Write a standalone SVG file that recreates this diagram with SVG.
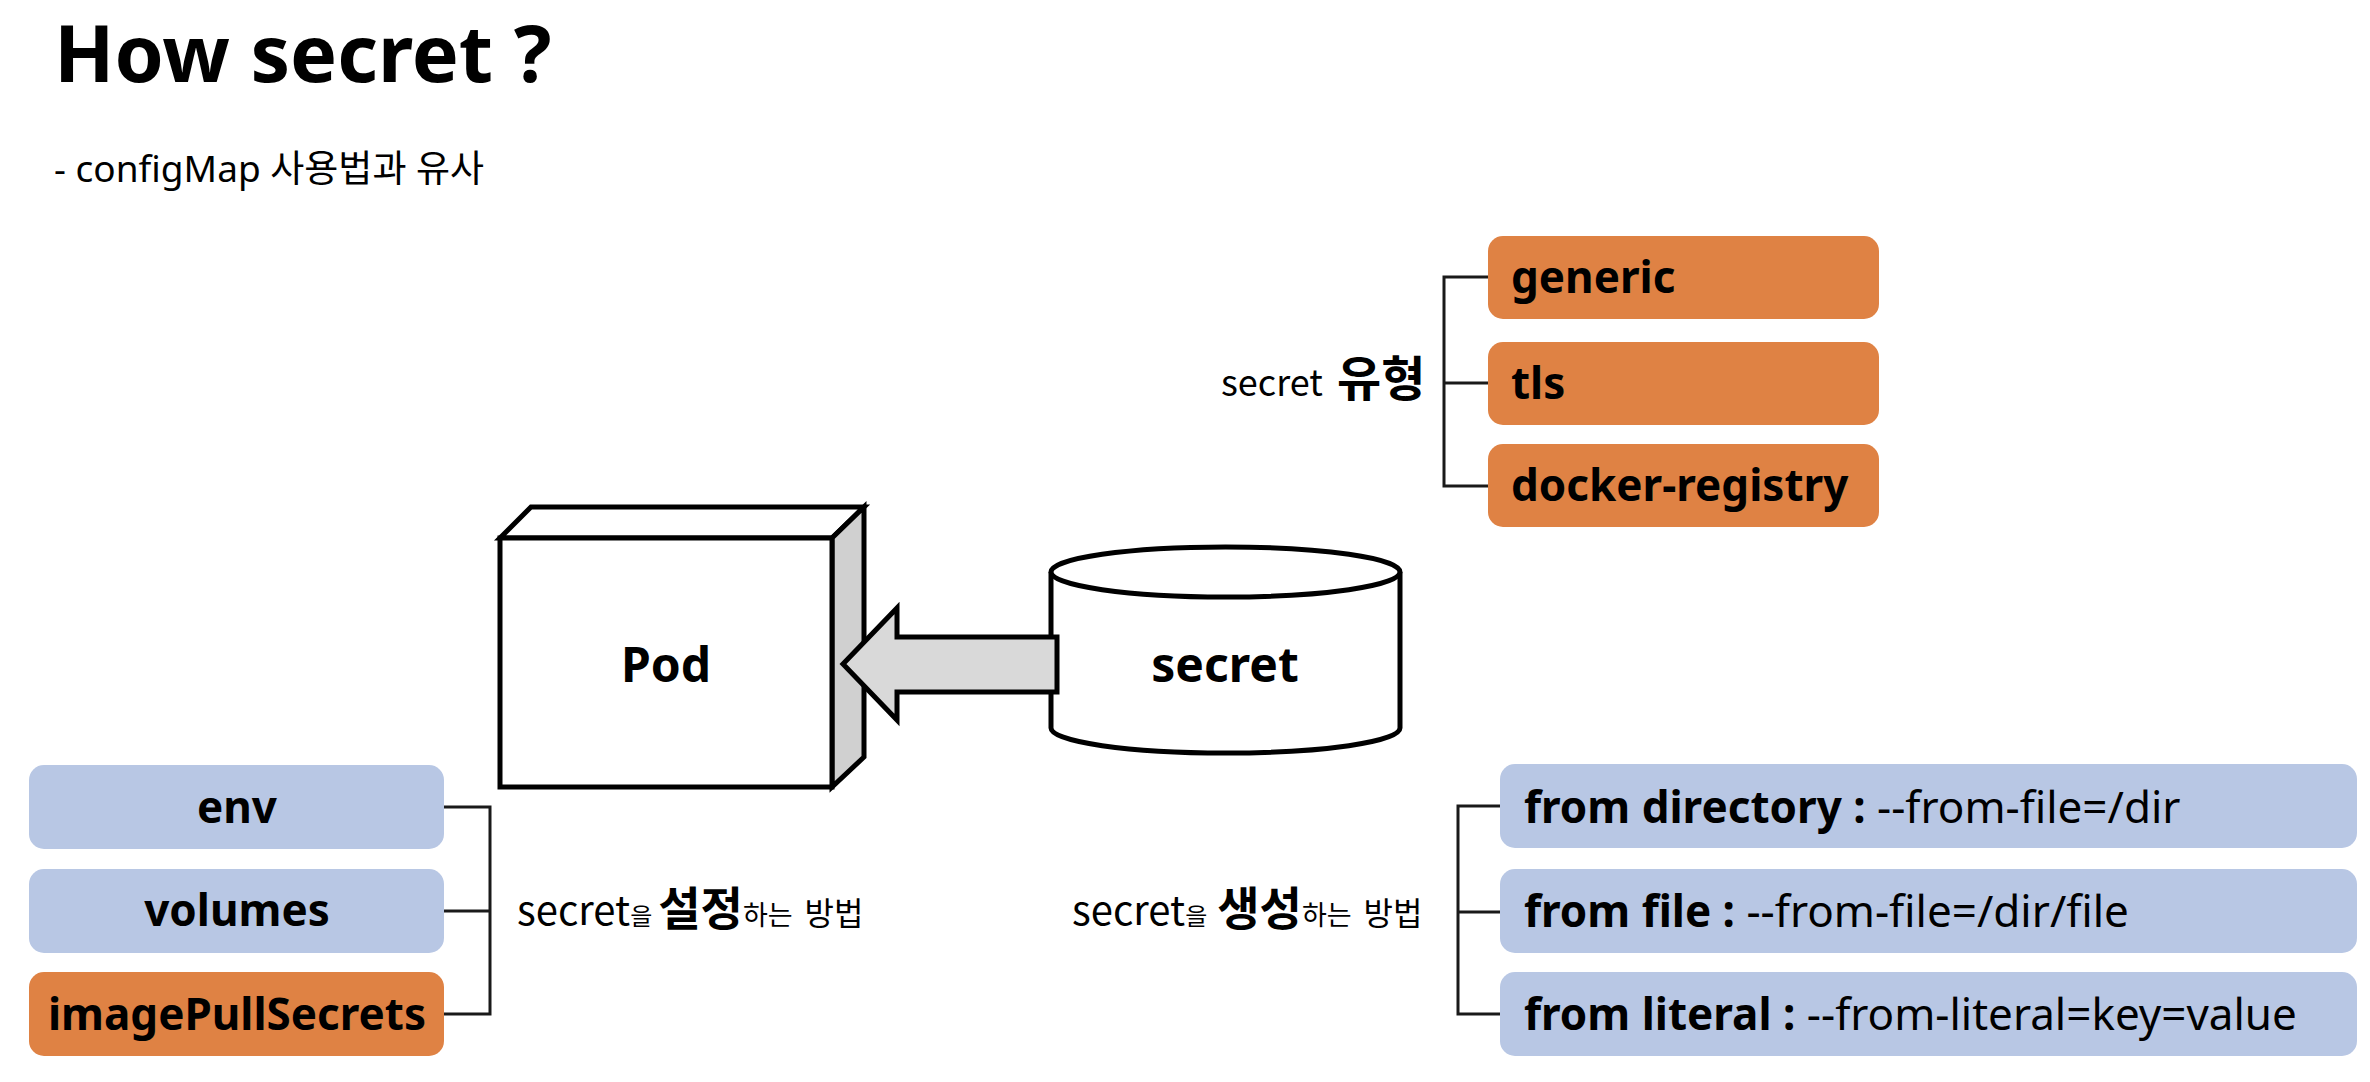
<svg xmlns="http://www.w3.org/2000/svg" width="2370" height="1082" viewBox="0 0 2370 1082">
<style>
  .t { font-family: "Noto Sans", "Noto Sans CJK KR", sans-serif; fill: #000; }
  .b { font-weight: bold; }
  .box-o { fill: #DF8244; }
  .box-b { fill: #B8C7E4; }
  .lbl { font-size: 44px; }
  .line { fill: none; stroke: #1a1a1a; stroke-width: 3; }
  .shape { stroke: #000; stroke-width: 5; stroke-linejoin: miter; }
  .hand { font-family: "Noto Sans CJK KR", "Noto Sans", sans-serif; fill: #000; }
</style>

<text class="t b" x="54" y="82" font-size="79">How secret ?</text>
<text class="t" x="54" y="182" font-size="37">- configMap 사용법과 유사</text>

<g id="connectors">
  <polyline class="line" points="1488,277 1444,277 1444,486 1488,486"/>
  <line class="line" x1="1444" y1="383" x2="1488" y2="383"/>
  <polyline class="line" points="444,807 490,807 490,1014 444,1014"/>
  <line class="line" x1="444" y1="911" x2="490" y2="911"/>
  <polyline class="line" points="1500,806 1458,806 1458,1014 1500,1014"/>
  <line class="line" x1="1458" y1="912" x2="1500" y2="912"/>
</g>

<g id="label-type">
  <text class="hand" y="396"><tspan x="1221" font-size="36">secret</tspan><tspan x="1337" font-size="48" font-weight="bold">유형</tspan></text>
</g>
<g id="label-set">
  <text class="hand" y="925" x="517"><tspan font-size="40">secret</tspan><tspan font-size="24">을</tspan><tspan font-size="46" font-weight="bold" dx="6">설정</tspan><tspan font-size="27">하는</tspan><tspan font-size="32" dx="12">방법</tspan></text>
</g>
<g id="label-create">
  <text class="hand" y="925" x="1072"><tspan font-size="40">secret</tspan><tspan font-size="24">을</tspan><tspan font-size="46" font-weight="bold" dx="10">생성</tspan><tspan font-size="27">하는</tspan><tspan font-size="32" dx="12">방법</tspan></text>
</g>

<g id="generic">
  <rect class="box-o" x="1488" y="236" width="391" height="83" rx="15"/>
  <text class="t b lbl" x="1511" y="293">generic</text>
</g>
<g id="tls">
  <rect class="box-o" x="1488" y="342" width="391" height="83" rx="15"/>
  <text class="t b lbl" x="1511" y="399">tls</text>
</g>
<g id="docker-registry">
  <rect class="box-o" x="1488" y="444" width="391" height="83" rx="15"/>
  <text class="t b lbl" x="1511" y="501">docker-registry</text>
</g>

<g id="pod">
  <polygon class="shape" fill="#fff" points="500,538 531,507 864,507 832,538"/>
  <polygon class="shape" fill="#D0D0D0" points="832,538 864,507 864,757 832,787"/>
  <rect class="shape" fill="#fff" x="500" y="538" width="332" height="249"/>
  <text class="t b" x="666" y="682" font-size="48" text-anchor="middle">Pod</text>
</g>

<g id="secret">
  <path class="shape" fill="#fff" d="M1051,572 L1051,728 A174.5,25 0 0 0 1400,728 L1400,572"/>
  <ellipse class="shape" fill="#fff" cx="1225.5" cy="572" rx="174.5" ry="25"/>
  <text class="t b" x="1225" y="682" font-size="48" text-anchor="middle">secret</text>
</g>

<g id="arrow">
  <polygon class="shape" fill="#D9D9D9" points="843,664 897,608 897,637 1057,637 1057,692 897,692 897,720"/>
</g>

<g id="env">
  <rect class="box-b" x="29" y="765" width="415" height="84" rx="15"/>
  <text class="t b lbl" x="237" y="823" text-anchor="middle">env</text>
</g>
<g id="volumes">
  <rect class="box-b" x="29" y="869" width="415" height="84" rx="15"/>
  <text class="t b lbl" x="237" y="926" text-anchor="middle">volumes</text>
</g>
<g id="imagePullSecrets">
  <rect class="box-o" x="29" y="972" width="415" height="84" rx="15"/>
  <text class="t b lbl" x="237" y="1030" text-anchor="middle">imagePullSecrets</text>
</g>

<g id="from-directory">
  <rect class="box-b" x="1500" y="764" width="857" height="84" rx="15"/>
  <text class="t lbl" x="1524" y="823"><tspan class="b">from directory :</tspan> --from-file=/dir</text>
</g>
<g id="from-file">
  <rect class="box-b" x="1500" y="869" width="857" height="84" rx="15"/>
  <text class="t lbl" x="1524" y="927"><tspan class="b">from file :</tspan> --from-file=/dir/file</text>
</g>
<g id="from-literal">
  <rect class="box-b" x="1500" y="972" width="857" height="84" rx="15"/>
  <text class="t lbl" x="1524" y="1030"><tspan class="b">from literal :</tspan> --from-literal=key=value</text>
</g>
</svg>
